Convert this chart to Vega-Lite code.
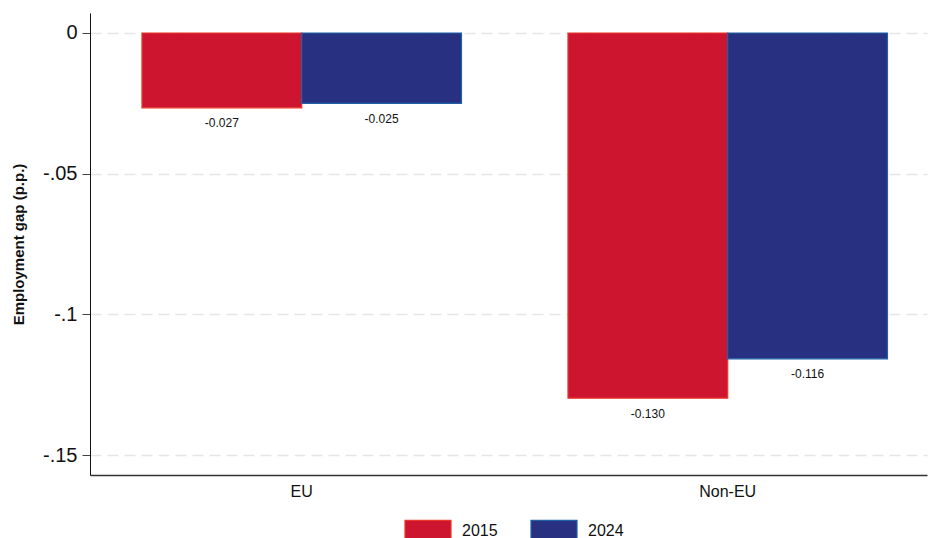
{
  "$schema": "https://vega.github.io/schema/vega-lite/v6.json",
  "autosize": {"type": "none"},
  "width": 837,
  "height": 462,
  "padding": {"left": 90, "top": 13, "right": 2, "bottom": 63},
  "background": "white",
  "config": {
    "view": {"stroke": null},
    "font": "Liberation Sans",
    "locale": {
      "number": {
        "decimal": ".",
        "thousands": ",",
        "grouping": [3],
        "currency": ["$", ""],
        "minus": "-"
      }
    }
  },
  "data": {
    "values": [
      {"group": "EU", "year": "2015", "value": -0.0266},
      {"group": "EU", "year": "2024", "value": -0.025},
      {"group": "Non-EU", "year": "2015", "value": -0.1298},
      {"group": "Non-EU", "year": "2024", "value": -0.1158}
    ]
  },
  "encoding": {
    "x": {
      "field": "group",
      "type": "nominal",
      "sort": ["EU", "Non-EU"],
      "scale": {"paddingInner": 0.25, "paddingOuter": 0.1074, "align": 0.568},
      "axis": {
        "title": null,
        "labelAngle": 0,
        "labelFontSize": 16,
        "labelColor": "#111",
        "labelPadding": 8,
        "ticks": false,
        "domainColor": "#333",
        "domainWidth": 1.5,
        "grid": false
      }
    },
    "xOffset": {
      "field": "year",
      "type": "nominal",
      "scale": {"paddingInner": 0, "paddingOuter": 0}
    },
    "y": {
      "field": "value",
      "type": "quantitative",
      "scale": {"domain": [-0.1571, 0.0071], "nice": false, "zero": false},
      "axis": {
        "title": "Employment gap (p.p.)",
        "titleFontSize": 15,
        "titleFontWeight": "bold",
        "titleColor": "#111",
        "titleAngle": -90,
        "titleBaseline": "middle",
        "titleX": -72,
        "titleY": 231,
        "values": [0, -0.05, -0.1, -0.15],
        "labelExpr": "datum.value == 0 ? '0' : replace(format(datum.value, '.2~f'), '0.', '.')",
        "labelFontSize": 20,
        "labelColor": "#111",
        "labelPadding": 5,
        "tickSize": 8,
        "tickColor": "#444",
        "domainColor": "#111",
        "domainWidth": 1,
        "grid": true,
        "gridColor": "#e6e6e6",
        "gridDash": [11, 6],
        "gridWidth": 1.5
      }
    }
  },
  "layer": [
    {
      "mark": {"type": "bar", "strokeWidth": 1.2},
      "encoding": {
        "y2": {"datum": 0},
        "color": {
          "field": "year",
          "type": "nominal",
          "scale": {"domain": ["2015", "2024"], "range": ["#CE1530", "#283082"]},
          "legend": {
            "orient": "none",
            "legendX": 314,
            "legendY": 494,
            "direction": "horizontal",
            "title": null,
            "symbolType": "M-1,-0.478H1V0.478H-1Z",
            "symbolSize": 2116,
            "symbolStrokeWidth": 1.2,
            "labelFontSize": 16,
            "labelColor": "#111",
            "labelOffset": 10,
            "columnPadding": 30
          }
        },
        "stroke": {
          "field": "year",
          "type": "nominal",
          "scale": {"domain": ["2015", "2024"], "range": ["#E8382A", "#1F63A6"]}
        }
      }
    },
    {
      "mark": {"type": "text", "baseline": "middle", "align": "center", "dy": 15.5, "fontSize": 12, "color": "#111"},
      "encoding": {
        "text": {"field": "value", "type": "quantitative", "format": ".3f"}
      }
    }
  ]
}
